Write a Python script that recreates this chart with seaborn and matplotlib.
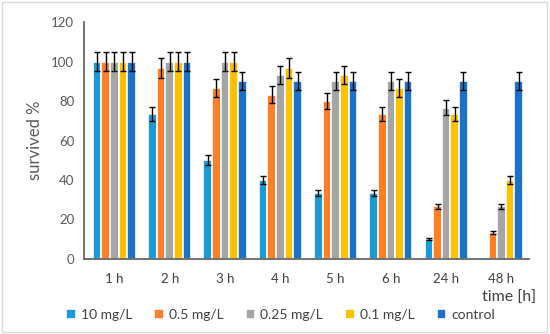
import numpy as np
import pandas as pd
import matplotlib
matplotlib.use("Agg")
import matplotlib.pyplot as plt
import seaborn as sns
from matplotlib.patches import Rectangle

times = ["1 h", "2 h", "3 h", "4 h", "5 h", "6 h", "24 h", "48 h"]
series = ["10 mg/L", "0.5 mg/L", "0.25 mg/L", "0.1 mg/L", "control"]
v10 = [100, 73.3, 50, 40, 33.3, 33.3, 10, 0]
v05 = [100, 96.7, 86.7, 83.3, 80, 73.3, 26.7, 13.3]
v025 = [100, 100, 100, 93.3, 90, 90, 76.7, 26.7]
v01 = [100, 100, 100, 96.7, 93.3, 86.7, 73.3, 40]
vctl = [100, 100, 90, 90, 90, 90, 90, 90]
e10 = [5, 3.5, 2.5, 2, 1.5, 1.5, 0.5, 0]
e05 = [5, 5, 4.5, 4.5, 4, 3.5, 1.3, 0.7]
e025 = [5, 5, 5, 4.5, 4.5, 4.5, 4, 1.3]
e01 = [5, 5, 5, 5, 4.5, 4.5, 3.5, 2]
ectl = [5, 5, 4.5, 4.5, 4.5, 4.5, 4.5, 4.5]
colors = ["#1A9BD7", "#FF7F27", "#A5A5A5", "#FFC000", "#1B72C8"]

vals = [v10, v05, v025, v01, vctl]
errs = [e10, e05, e025, e01, ectl]
rows = []
for s, vv in zip(series, vals):
    for t, v in zip(times, vv):
        rows.append({"time": t, "conc": s, "value": v})
df = pd.DataFrame(rows)

sns.set_style("white")
plt.rcParams["font.family"] = ["Lato", "DejaVu Sans"]

fig = plt.figure(figsize=(5.5, 3.34), dpi=100)
ax = fig.add_axes([0.1527, 0.2246, 0.8093, 0.7094])
sns.barplot(data=df, x="time", y="value", hue="conc", order=times, hue_order=series,
            palette=colors, errorbar=None, width=0.78, edgecolor="white", linewidth=1.2,
            saturation=1, ax=ax, legend=True)

for cont, ee in zip(ax.containers, errs):
    for bar, e in zip(cont, ee):
        if e > 0:
            x = bar.get_x() + bar.get_width() / 2
            ax.errorbar(x, bar.get_height(), yerr=e, color="black", capsize=2.5,
                        elinewidth=1, capthick=1)

ax.set_ylim(0, 120)
ax.set_yticks(range(0, 121, 20))
ax.set_xlim(-0.55, 7.5)
for s in ["top", "right"]:
    ax.spines[s].set_visible(False)
ax.spines["left"].set_color("#595959")
ax.spines["bottom"].set_color("#595959")
ax.spines["left"].set_linewidth(1.2)
ax.spines["bottom"].set_linewidth(1.2)
ax.tick_params(axis="y", direction="out", length=4, width=1, color="#595959",
               labelsize=9.5, labelcolor="#595959", pad=3)
ax.tick_params(axis="x", length=0, labelsize=9.5, labelcolor="#404040", pad=10)
ax.set_xlabel("")
ax.set_ylabel("survived %", fontsize=12, color="#595959", labelpad=6)
fig.text(0.975, 0.108, "time [h]", ha="right", va="center", fontsize=11.5, color="#404040")

handles, labels = ax.get_legend_handles_labels()
ax.legend_.remove()
fig.legend(handles, labels, loc="center", bbox_to_anchor=(0.51, 0.058), ncol=5,
           frameon=False, fontsize=10, handlelength=0.7, handleheight=0.7,
           handletextpad=0.35, columnspacing=1.6, labelcolor="#404040")

fig.patches.append(Rectangle((0.004, 0.006), 0.99, 0.988, transform=fig.transFigure,
                             fill=False, edgecolor="#D9D9D9", linewidth=1))
fig.savefig("out.png", dpi=100)
